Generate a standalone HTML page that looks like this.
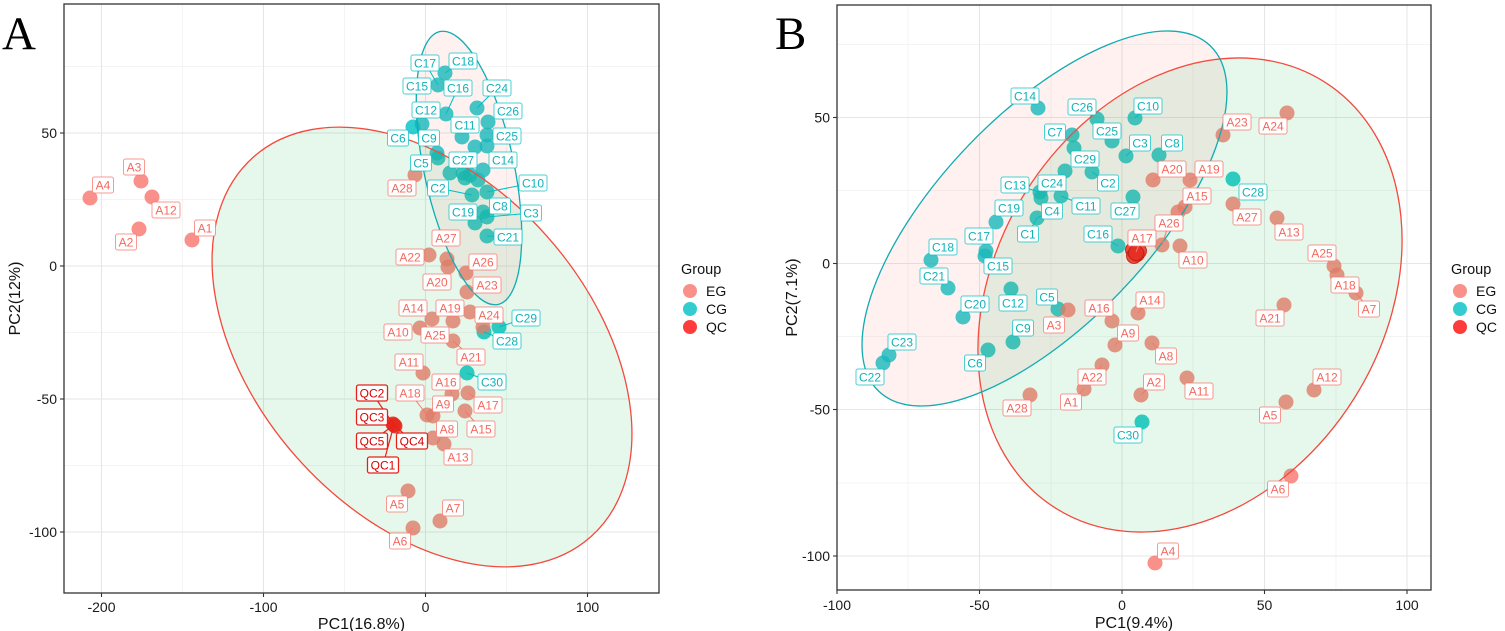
<!DOCTYPE html>
<html><head><meta charset="utf-8"><style>
html,body{margin:0;padding:0;background:#fff;overflow:hidden}
svg{display:block}
text{font-family:"Liberation Sans",Arial,sans-serif}
.gM{stroke:#e6e6e6;stroke-width:1.1;fill:none}
.gm{stroke:#f1f1f1;stroke-width:0.8;fill:none}
.pe{fill:#F8766D;fill-opacity:.8}
.pc{fill:#00BFC4;fill-opacity:.8}
.pq{fill:#ff1a1a;fill-opacity:.85}
.lab text{font-size:12px;text-anchor:middle}
.lc rect{fill:#fff;stroke:#00BFC4;stroke-opacity:.7;stroke-width:1}
.lc text{fill:#12b2b8}
.le rect{fill:#fff;stroke:#F8766D;stroke-opacity:.75;stroke-width:1}
.le text{fill:#f26a60}
.lq rect{fill:#fff;stroke:#e8201a;stroke-width:1.3}
.lq text{fill:#d80000}
.cc{stroke:#00BFC4;stroke-width:1}
.ce{stroke:#F8766D;stroke-width:1}
.cq{stroke:#e8201a;stroke-width:1.2}
.tk{font-size:14px;fill:#1a1a1a}
.ti{font-size:16px;fill:#111}
.frame{fill:none;stroke:#333;stroke-width:1.3}
.tm{stroke:#333;stroke-width:1.1}
</style></head><body>
<svg width="1505" height="631" viewBox="0 0 1505 631" xmlns="http://www.w3.org/2000/svg">
<defs>
<clipPath id="cA"><rect x="64" y="4" width="595" height="589"/></clipPath>
<clipPath id="cB"><rect x="837" y="5" width="594" height="585"/></clipPath>
</defs>
<rect width="1505" height="631" fill="#fff"/>

<!-- ================= PANEL A ================= -->
<g clip-path="url(#cA)">
<g class="gm">
<line x1="182.5" y1="4" x2="182.5" y2="593"/><line x1="344.5" y1="4" x2="344.5" y2="593"/><line x1="506.5" y1="4" x2="506.5" y2="593"/>
<line x1="64" y1="66.5" x2="659" y2="66.5"/><line x1="64" y1="199.5" x2="659" y2="199.5"/><line x1="64" y1="332.5" x2="659" y2="332.5"/><line x1="64" y1="465.5" x2="659" y2="465.5"/>
</g>
<g class="gM">
<line x1="101.5" y1="4" x2="101.5" y2="593"/><line x1="263.5" y1="4" x2="263.5" y2="593"/><line x1="425.5" y1="4" x2="425.5" y2="593"/><line x1="587.5" y1="4" x2="587.5" y2="593"/>
<line x1="64" y1="133" x2="659" y2="133"/><line x1="64" y1="266" x2="659" y2="266"/><line x1="64" y1="399" x2="659" y2="399"/><line x1="64" y1="532" x2="659" y2="532"/>
</g>

<g class="pc">
<circle cx="445" cy="73" r="7.5"/><circle cx="438" cy="85" r="7.5"/><circle cx="446" cy="114" r="7.5"/><circle cx="477" cy="108" r="7.5"/>
<circle cx="413" cy="127" r="7.5"/><circle cx="422" cy="124" r="7.5"/><circle cx="488" cy="122" r="7.5"/><circle cx="462" cy="137" r="7.5"/>
<circle cx="487" cy="135" r="7.5"/><circle cx="487" cy="146" r="7.5"/><circle cx="475" cy="147" r="7.5"/><circle cx="437" cy="153" r="7.5"/>
<circle cx="438" cy="158" r="7.5"/><circle cx="483" cy="170" r="7.5"/><circle cx="450" cy="173" r="7.5"/><circle cx="463" cy="173" r="7.5"/>
<circle cx="470" cy="175" r="7.5"/><circle cx="478" cy="180" r="7.5"/><circle cx="465" cy="178" r="7.5"/><circle cx="487" cy="192" r="7.5"/>
<circle cx="472" cy="195" r="7.5"/><circle cx="483" cy="212" r="7.5"/><circle cx="487" cy="217" r="7.5"/><circle cx="475" cy="223" r="7.5"/>
<circle cx="487" cy="236" r="7.5"/><circle cx="484" cy="332" r="7.5"/><circle cx="499" cy="327" r="7.5"/><circle cx="467" cy="373" r="7.5"/>
</g>
<g class="pe">
<circle cx="415" cy="175" r="7.5"/><circle cx="429" cy="255" r="7.5"/><circle cx="447" cy="259" r="7.5"/><circle cx="448" cy="267" r="7.5"/>
<circle cx="466" cy="273" r="7.5"/><circle cx="467" cy="292" r="7.5"/><circle cx="470" cy="312" r="7.5"/><circle cx="432" cy="319" r="7.5"/>
<circle cx="453" cy="321" r="7.5"/><circle cx="420" cy="328" r="7.5"/><circle cx="483" cy="327" r="7.5"/><circle cx="453" cy="341" r="7.5"/>
<circle cx="423" cy="373" r="7.5"/><circle cx="452" cy="394" r="7.5"/><circle cx="468" cy="393" r="7.5"/><circle cx="427" cy="415" r="7.5"/>
<circle cx="433" cy="416" r="7.5"/><circle cx="465" cy="411" r="7.5"/><circle cx="433" cy="438" r="7.5"/><circle cx="444" cy="444" r="7.5"/>
<circle cx="408" cy="491" r="7.5"/><circle cx="440" cy="521" r="7.5"/><circle cx="413" cy="528" r="7.5"/>
<circle cx="90" cy="198" r="7.5"/><circle cx="141" cy="181" r="7.5"/><circle cx="152" cy="197" r="7.5"/><circle cx="139" cy="229" r="7.5"/><circle cx="192" cy="240" r="7.5"/>
</g>
<g class="pq">
<circle cx="394" cy="425" r="7.5"/><circle cx="395" cy="426" r="7.5"/><circle cx="393" cy="424" r="7.5"/>
</g>

<ellipse cx="422" cy="347" rx="254" ry="167" transform="rotate(48.35 422 347)" fill="#00BA38" fill-opacity="0.1" stroke="#f4493d" stroke-width="1.3"/>
<ellipse cx="469" cy="168" rx="139.5" ry="45" transform="rotate(78 469 168)" fill="#F8766D" fill-opacity="0.1" stroke="#10acb2" stroke-width="1.3"/>

<g class="cc">
<line x1="425" y1="63" x2="438" y2="85"/><line x1="463" y1="61" x2="445" y2="73"/><line x1="458" y1="88" x2="446" y2="114"/>
<line x1="497" y1="88" x2="477" y2="108"/><line x1="533" y1="183" x2="487" y2="192"/><line x1="531" y1="213" x2="487" y2="217"/>
<line x1="438" y1="188" x2="472" y2="195"/><line x1="526" y1="318" x2="499" y2="327"/><line x1="507" y1="341" x2="484" y2="332"/>
<line x1="492" y1="382" x2="467" y2="373"/><line x1="508" y1="237" x2="487" y2="236"/>
</g>
<g class="ce">
<line x1="410" y1="393" x2="427" y2="415"/><line x1="488" y1="405" x2="468" y2="393"/><line x1="481" y1="429" x2="465" y2="411"/>
<line x1="471" y1="357" x2="453" y2="341"/><line x1="400" y1="541" x2="413" y2="528"/><line x1="443" y1="404" x2="433" y2="416"/>
<line x1="446" y1="382" x2="452" y2="394"/>
</g>
<g class="cq">
<line x1="372" y1="393" x2="394" y2="425"/><line x1="372" y1="417" x2="394" y2="425"/><line x1="372" y1="441" x2="394" y2="425"/>
<line x1="412" y1="441" x2="394" y2="425"/><line x1="383" y1="465" x2="394" y2="425"/>
</g>
</g>

<g class="lab lc">
<g transform="translate(425,63)"><rect x="-14" y="-8" width="28" height="16" rx="2"/><text y="4.3">C17</text></g>
<g transform="translate(463,61)"><rect x="-14" y="-8" width="28" height="16" rx="2"/><text y="4.3">C18</text></g>
<g transform="translate(417,86)"><rect x="-14" y="-8" width="28" height="16" rx="2"/><text y="4.3">C15</text></g>
<g transform="translate(458,88)"><rect x="-14" y="-8" width="28" height="16" rx="2"/><text y="4.3">C16</text></g>
<g transform="translate(497,88)"><rect x="-14" y="-8" width="28" height="16" rx="2"/><text y="4.3">C24</text></g>
<g transform="translate(426,110)"><rect x="-14" y="-8" width="28" height="16" rx="2"/><text y="4.3">C12</text></g>
<g transform="translate(508,111)"><rect x="-14" y="-8" width="28" height="16" rx="2"/><text y="4.3">C26</text></g>
<g transform="translate(465,125)"><rect x="-14" y="-8" width="28" height="16" rx="2"/><text y="4.3">C11</text></g>
<g transform="translate(398,138)"><rect x="-10.5" y="-8" width="21" height="16" rx="2"/><text y="4.3">C6</text></g>
<g transform="translate(429,138)"><rect x="-10.5" y="-8" width="21" height="16" rx="2"/><text y="4.3">C9</text></g>
<g transform="translate(507,136)"><rect x="-14" y="-8" width="28" height="16" rx="2"/><text y="4.3">C25</text></g>
<g transform="translate(421,163)"><rect x="-10.5" y="-8" width="21" height="16" rx="2"/><text y="4.3">C5</text></g>
<g transform="translate(463,160)"><rect x="-14" y="-8" width="28" height="16" rx="2"/><text y="4.3">C27</text></g>
<g transform="translate(503,160)"><rect x="-14" y="-8" width="28" height="16" rx="2"/><text y="4.3">C14</text></g>
<g transform="translate(438,188)"><rect x="-10.5" y="-8" width="21" height="16" rx="2"/><text y="4.3">C2</text></g>
<g transform="translate(533,183)"><rect x="-14" y="-8" width="28" height="16" rx="2"/><text y="4.3">C10</text></g>
<g transform="translate(500,206)"><rect x="-10.5" y="-8" width="21" height="16" rx="2"/><text y="4.3">C8</text></g>
<g transform="translate(463,212)"><rect x="-14" y="-8" width="28" height="16" rx="2"/><text y="4.3">C19</text></g>
<g transform="translate(531,213)"><rect x="-10.5" y="-8" width="21" height="16" rx="2"/><text y="4.3">C3</text></g>
<g transform="translate(508,237)"><rect x="-14" y="-8" width="28" height="16" rx="2"/><text y="4.3">C21</text></g>
<g transform="translate(526,318)"><rect x="-14" y="-8" width="28" height="16" rx="2"/><text y="4.3">C29</text></g>
<g transform="translate(507,341)"><rect x="-14" y="-8" width="28" height="16" rx="2"/><text y="4.3">C28</text></g>
<g transform="translate(492,382)"><rect x="-14" y="-8" width="28" height="16" rx="2"/><text y="4.3">C30</text></g>
</g>
<g class="lab le">
<g transform="translate(134,167)"><rect x="-10.5" y="-8" width="21" height="16" rx="2"/><text y="4.3">A3</text></g>
<g transform="translate(103,185)"><rect x="-10.5" y="-8" width="21" height="16" rx="2"/><text y="4.3">A4</text></g>
<g transform="translate(166,210)"><rect x="-14" y="-8" width="28" height="16" rx="2"/><text y="4.3">A12</text></g>
<g transform="translate(205,228)"><rect x="-10.5" y="-8" width="21" height="16" rx="2"/><text y="4.3">A1</text></g>
<g transform="translate(126,242)"><rect x="-10.5" y="-8" width="21" height="16" rx="2"/><text y="4.3">A2</text></g>
<g transform="translate(402,188)"><rect x="-14" y="-8" width="28" height="16" rx="2"/><text y="4.3">A28</text></g>
<g transform="translate(446,238)"><rect x="-14" y="-8" width="28" height="16" rx="2"/><text y="4.3">A27</text></g>
<g transform="translate(410,257)"><rect x="-14" y="-8" width="28" height="16" rx="2"/><text y="4.3">A22</text></g>
<g transform="translate(483,262)"><rect x="-14" y="-8" width="28" height="16" rx="2"/><text y="4.3">A26</text></g>
<g transform="translate(437,282)"><rect x="-14" y="-8" width="28" height="16" rx="2"/><text y="4.3">A20</text></g>
<g transform="translate(487,285)"><rect x="-14" y="-8" width="28" height="16" rx="2"/><text y="4.3">A23</text></g>
<g transform="translate(413,308)"><rect x="-14" y="-8" width="28" height="16" rx="2"/><text y="4.3">A14</text></g>
<g transform="translate(450,308)"><rect x="-14" y="-8" width="28" height="16" rx="2"/><text y="4.3">A19</text></g>
<g transform="translate(489,315)"><rect x="-14" y="-8" width="28" height="16" rx="2"/><text y="4.3">A24</text></g>
<g transform="translate(398,332)"><rect x="-14" y="-8" width="28" height="16" rx="2"/><text y="4.3">A10</text></g>
<g transform="translate(435,335)"><rect x="-14" y="-8" width="28" height="16" rx="2"/><text y="4.3">A25</text></g>
<g transform="translate(471,357)"><rect x="-14" y="-8" width="28" height="16" rx="2"/><text y="4.3">A21</text></g>
<g transform="translate(409,362)"><rect x="-14" y="-8" width="28" height="16" rx="2"/><text y="4.3">A11</text></g>
<g transform="translate(446,382)"><rect x="-14" y="-8" width="28" height="16" rx="2"/><text y="4.3">A16</text></g>
<g transform="translate(410,393)"><rect x="-14" y="-8" width="28" height="16" rx="2"/><text y="4.3">A18</text></g>
<g transform="translate(443,404)"><rect x="-10.5" y="-8" width="21" height="16" rx="2"/><text y="4.3">A9</text></g>
<g transform="translate(488,405)"><rect x="-14" y="-8" width="28" height="16" rx="2"/><text y="4.3">A17</text></g>
<g transform="translate(447,429)"><rect x="-10.5" y="-8" width="21" height="16" rx="2"/><text y="4.3">A8</text></g>
<g transform="translate(481,429)"><rect x="-14" y="-8" width="28" height="16" rx="2"/><text y="4.3">A15</text></g>
<g transform="translate(458,457)"><rect x="-14" y="-8" width="28" height="16" rx="2"/><text y="4.3">A13</text></g>
<g transform="translate(397,504)"><rect x="-10.5" y="-8" width="21" height="16" rx="2"/><text y="4.3">A5</text></g>
<g transform="translate(453,508)"><rect x="-10.5" y="-8" width="21" height="16" rx="2"/><text y="4.3">A7</text></g>
<g transform="translate(400,541)"><rect x="-10.5" y="-8" width="21" height="16" rx="2"/><text y="4.3">A6</text></g>
</g>
<g class="lab lq">
<g transform="translate(372,393)"><rect x="-15.5" y="-8" width="31" height="16" rx="2"/><text y="4.3">QC2</text></g>
<g transform="translate(372,417)"><rect x="-15.5" y="-8" width="31" height="16" rx="2"/><text y="4.3">QC3</text></g>
<g transform="translate(372,441)"><rect x="-15.5" y="-8" width="31" height="16" rx="2"/><text y="4.3">QC5</text></g>
<g transform="translate(412,441)"><rect x="-15.5" y="-8" width="31" height="16" rx="2"/><text y="4.3">QC4</text></g>
<g transform="translate(383,465)"><rect x="-15.5" y="-8" width="31" height="16" rx="2"/><text y="4.3">QC1</text></g>
</g>

<rect class="frame" x="64" y="4" width="595" height="589"/>
<g class="tm">
<line x1="60" y1="133" x2="64" y2="133"/><line x1="60" y1="266" x2="64" y2="266"/><line x1="60" y1="399" x2="64" y2="399"/><line x1="60" y1="532" x2="64" y2="532"/>
<line x1="101.5" y1="593" x2="101.5" y2="597"/><line x1="263.5" y1="593" x2="263.5" y2="597"/><line x1="425.5" y1="593" x2="425.5" y2="597"/><line x1="587.5" y1="593" x2="587.5" y2="597"/>
</g>
<g class="tk" text-anchor="end">
<text x="57" y="138">50</text><text x="57" y="271">0</text><text x="57" y="404">-50</text><text x="57" y="537">-100</text>
</g>
<g class="tk" text-anchor="middle">
<text x="101.5" y="612">-200</text><text x="263.5" y="612">-100</text><text x="425.5" y="612">0</text><text x="587.5" y="612">100</text>
</g>
<text class="ti" x="361.5" y="629" text-anchor="middle">PC1(16.8%)</text>
<text class="ti" transform="translate(20,298.5) rotate(-90)" text-anchor="middle">PC2(12%)</text>
<text x="2" y="49" style="font-family:'Liberation Serif',serif;font-size:47px" fill="#000">A</text>

<text x="681" y="274" style="font-size:14.5px" fill="#111">Group</text>
<circle cx="690" cy="291" r="7" class="pe"/><circle cx="690" cy="309" r="7" class="pc"/><circle cx="690" cy="327" r="7" class="pq"/>
<g style="font-size:14px" fill="#111"><text x="706" y="296">EG</text><text x="706" y="314">CG</text><text x="706" y="332">QC</text></g>

<!-- ================= PANEL B ================= -->
<g clip-path="url(#cB)">
<g class="gm">
<line x1="908" y1="5" x2="908" y2="590"/><line x1="1051" y1="5" x2="1051" y2="590"/><line x1="1193" y1="5" x2="1193" y2="590"/><line x1="1336" y1="5" x2="1336" y2="590"/>
<line x1="837" y1="44.5" x2="1431" y2="44.5"/><line x1="837" y1="190.5" x2="1431" y2="190.5"/><line x1="837" y1="336.5" x2="1431" y2="336.5"/><line x1="837" y1="483" x2="1431" y2="483"/>
</g>
<g class="gM">
<line x1="979.5" y1="5" x2="979.5" y2="590"/><line x1="1122" y1="5" x2="1122" y2="590"/><line x1="1264.5" y1="5" x2="1264.5" y2="590"/><line x1="1407" y1="5" x2="1407" y2="590"/>
<line x1="837" y1="117.5" x2="1431" y2="117.5"/><line x1="837" y1="263.5" x2="1431" y2="263.5"/><line x1="837" y1="409.5" x2="1431" y2="409.5"/><line x1="837" y1="556" x2="1431" y2="556"/>
</g>

<g class="pc">
<circle cx="1038" cy="108" r="7.5"/><circle cx="1097" cy="119" r="7.5"/><circle cx="1135" cy="118" r="7.5"/><circle cx="1072" cy="135" r="7.5"/>
<circle cx="1112" cy="141" r="7.5"/><circle cx="1074" cy="148" r="7.5"/><circle cx="1126" cy="156" r="7.5"/><circle cx="1159" cy="155" r="7.5"/>
<circle cx="1065" cy="171" r="7.5"/><circle cx="1092" cy="172" r="7.5"/><circle cx="1040" cy="192" r="7.5"/><circle cx="1041" cy="198" r="7.5"/>
<circle cx="1061" cy="196" r="7.5"/><circle cx="1133" cy="197" r="7.5"/><circle cx="996" cy="222" r="7.5"/><circle cx="1037" cy="218" r="7.5"/>
<circle cx="986" cy="251" r="7.5"/><circle cx="985" cy="256" r="7.5"/><circle cx="1118" cy="246" r="7.5"/><circle cx="931" cy="260" r="7.5"/>
<circle cx="948" cy="288" r="7.5"/><circle cx="1011" cy="289" r="7.5"/><circle cx="963" cy="317" r="7.5"/><circle cx="1058" cy="309" r="7.5"/>
<circle cx="1013" cy="342" r="7.5"/><circle cx="988" cy="350" r="7.5"/><circle cx="889" cy="355" r="7.5"/><circle cx="883" cy="363" r="7.5"/>
<circle cx="1233" cy="179" r="7.5"/><circle cx="1142" cy="422" r="7.5"/>
</g>
<g class="pe">
<circle cx="1223" cy="135" r="7.5"/><circle cx="1287" cy="113" r="7.5"/><circle cx="1153" cy="180" r="7.5"/><circle cx="1190" cy="180" r="7.5"/>
<circle cx="1185" cy="207" r="7.5"/><circle cx="1178" cy="212" r="7.5"/><circle cx="1233" cy="204" r="7.5"/><circle cx="1277" cy="218" r="7.5"/>
<circle cx="1162" cy="245" r="7.5"/><circle cx="1180" cy="246" r="7.5"/><circle cx="1334" cy="266" r="7.5"/><circle cx="1337" cy="275" r="7.5"/>
<circle cx="1356" cy="293" r="7.5"/><circle cx="1138" cy="313" r="7.5"/><circle cx="1112" cy="321" r="7.5"/><circle cx="1068" cy="310" r="7.5"/>
<circle cx="1115" cy="345" r="7.5"/><circle cx="1284" cy="305" r="7.5"/><circle cx="1152" cy="343" r="7.5"/><circle cx="1314" cy="390" r="7.5"/>
<circle cx="1102" cy="365" r="7.5"/><circle cx="1141" cy="395" r="7.5"/><circle cx="1187" cy="378" r="7.5"/><circle cx="1084" cy="389" r="7.5"/>
<circle cx="1030" cy="395" r="7.5"/><circle cx="1286" cy="402" r="7.5"/><circle cx="1291" cy="476" r="7.5"/><circle cx="1155" cy="563" r="7.5"/>
<circle cx="1136" cy="252" r="7.5"/>
</g>
<g class="pq" stroke="#c00" stroke-width="0.8">
<circle cx="1133" cy="250" r="7.5"/><circle cx="1137" cy="254" r="7.5"/><circle cx="1139" cy="251" r="7.5"/><circle cx="1134" cy="256" r="7.5"/><circle cx="1136" cy="253" r="7.5"/>
</g>

<ellipse cx="1190" cy="295" rx="252" ry="194" transform="rotate(-57.85 1190 295)" fill="#00BA38" fill-opacity="0.1" stroke="#f4493d" stroke-width="1.3"/>
<ellipse cx="1044.5" cy="218.5" rx="239.4" ry="105.5" transform="rotate(-46.15 1044.5 218.5)" fill="#F8766D" fill-opacity="0.1" stroke="#10acb2" stroke-width="1.3"/>

<g class="cc">
<line x1="1015" y1="185" x2="1040" y2="192"/><line x1="1086" y1="206" x2="1061" y2="196"/><line x1="1108" y1="183" x2="1092" y2="172"/>
<line x1="1098" y1="234" x2="1118" y2="246"/><line x1="1052" y1="211" x2="1037" y2="218"/><line x1="1028" y1="234" x2="1037" y2="218"/>
<line x1="1140" y1="143" x2="1126" y2="156"/><line x1="1148" y1="106" x2="1135" y2="118"/>
</g>
<g class="ce">
<line x1="1128" y1="333" x2="1115" y2="345"/><line x1="1166" y1="356" x2="1152" y2="343"/><line x1="1369" y1="309" x2="1356" y2="293"/>
<line x1="1197" y1="196" x2="1178" y2="212"/><line x1="1172" y1="169" x2="1153" y2="180"/><line x1="1209" y1="169" x2="1190" y2="180"/>
<line x1="1169" y1="223" x2="1162" y2="245"/><line x1="1142" y1="238" x2="1136" y2="252"/><line x1="1154" y1="382" x2="1141" y2="395"/>
<line x1="1150" y1="300" x2="1138" y2="313"/><line x1="1071" y1="402" x2="1084" y2="389"/><line x1="1092" y1="377" x2="1102" y2="365"/>
</g>
</g>

<g class="lab lc">
<g transform="translate(1025,96)"><rect x="-14" y="-8" width="28" height="16" rx="2"/><text y="4.3">C14</text></g>
<g transform="translate(1082,107)"><rect x="-14" y="-8" width="28" height="16" rx="2"/><text y="4.3">C26</text></g>
<g transform="translate(1148,106)"><rect x="-14" y="-8" width="28" height="16" rx="2"/><text y="4.3">C10</text></g>
<g transform="translate(1055,132)"><rect x="-10.5" y="-8" width="21" height="16" rx="2"/><text y="4.3">C7</text></g>
<g transform="translate(1107,131)"><rect x="-14" y="-8" width="28" height="16" rx="2"/><text y="4.3">C25</text></g>
<g transform="translate(1140,143)"><rect x="-10.5" y="-8" width="21" height="16" rx="2"/><text y="4.3">C3</text></g>
<g transform="translate(1172,143)"><rect x="-10.5" y="-8" width="21" height="16" rx="2"/><text y="4.3">C8</text></g>
<g transform="translate(1085,159)"><rect x="-14" y="-8" width="28" height="16" rx="2"/><text y="4.3">C29</text></g>
<g transform="translate(1108,183)"><rect x="-10.5" y="-8" width="21" height="16" rx="2"/><text y="4.3">C2</text></g>
<g transform="translate(1015,185)"><rect x="-14" y="-8" width="28" height="16" rx="2"/><text y="4.3">C13</text></g>
<g transform="translate(1052,183)"><rect x="-14" y="-8" width="28" height="16" rx="2"/><text y="4.3">C24</text></g>
<g transform="translate(1086,206)"><rect x="-14" y="-8" width="28" height="16" rx="2"/><text y="4.3">C11</text></g>
<g transform="translate(1125,211)"><rect x="-14" y="-8" width="28" height="16" rx="2"/><text y="4.3">C27</text></g>
<g transform="translate(1009,208)"><rect x="-14" y="-8" width="28" height="16" rx="2"/><text y="4.3">C19</text></g>
<g transform="translate(1052,211)"><rect x="-10.5" y="-8" width="21" height="16" rx="2"/><text y="4.3">C4</text></g>
<g transform="translate(1028,234)"><rect x="-10.5" y="-8" width="21" height="16" rx="2"/><text y="4.3">C1</text></g>
<g transform="translate(979,236)"><rect x="-14" y="-8" width="28" height="16" rx="2"/><text y="4.3">C17</text></g>
<g transform="translate(1098,234)"><rect x="-14" y="-8" width="28" height="16" rx="2"/><text y="4.3">C16</text></g>
<g transform="translate(943,247)"><rect x="-14" y="-8" width="28" height="16" rx="2"/><text y="4.3">C18</text></g>
<g transform="translate(998,266)"><rect x="-14" y="-8" width="28" height="16" rx="2"/><text y="4.3">C15</text></g>
<g transform="translate(934,276)"><rect x="-14" y="-8" width="28" height="16" rx="2"/><text y="4.3">C21</text></g>
<g transform="translate(1013,303)"><rect x="-14" y="-8" width="28" height="16" rx="2"/><text y="4.3">C12</text></g>
<g transform="translate(975,304)"><rect x="-14" y="-8" width="28" height="16" rx="2"/><text y="4.3">C20</text></g>
<g transform="translate(1047,297)"><rect x="-10.5" y="-8" width="21" height="16" rx="2"/><text y="4.3">C5</text></g>
<g transform="translate(1023,328)"><rect x="-10.5" y="-8" width="21" height="16" rx="2"/><text y="4.3">C9</text></g>
<g transform="translate(975,363)"><rect x="-10.5" y="-8" width="21" height="16" rx="2"/><text y="4.3">C6</text></g>
<g transform="translate(902,342)"><rect x="-14" y="-8" width="28" height="16" rx="2"/><text y="4.3">C23</text></g>
<g transform="translate(870,377)"><rect x="-14" y="-8" width="28" height="16" rx="2"/><text y="4.3">C22</text></g>
<g transform="translate(1253,192)"><rect x="-14" y="-8" width="28" height="16" rx="2"/><text y="4.3">C28</text></g>
<g transform="translate(1128,435)"><rect x="-14" y="-8" width="28" height="16" rx="2"/><text y="4.3">C30</text></g>
</g>
<g class="lab le">
<g transform="translate(1237,122)"><rect x="-14" y="-8" width="28" height="16" rx="2"/><text y="4.3">A23</text></g>
<g transform="translate(1273,126)"><rect x="-14" y="-8" width="28" height="16" rx="2"/><text y="4.3">A24</text></g>
<g transform="translate(1172,169)"><rect x="-14" y="-8" width="28" height="16" rx="2"/><text y="4.3">A20</text></g>
<g transform="translate(1209,169)"><rect x="-14" y="-8" width="28" height="16" rx="2"/><text y="4.3">A19</text></g>
<g transform="translate(1197,196)"><rect x="-14" y="-8" width="28" height="16" rx="2"/><text y="4.3">A15</text></g>
<g transform="translate(1247,217)"><rect x="-14" y="-8" width="28" height="16" rx="2"/><text y="4.3">A27</text></g>
<g transform="translate(1289,232)"><rect x="-14" y="-8" width="28" height="16" rx="2"/><text y="4.3">A13</text></g>
<g transform="translate(1169,223)"><rect x="-14" y="-8" width="28" height="16" rx="2"/><text y="4.3">A26</text></g>
<g transform="translate(1142,238)"><rect x="-14" y="-8" width="28" height="16" rx="2"/><text y="4.3">A17</text></g>
<g transform="translate(1193,260)"><rect x="-14" y="-8" width="28" height="16" rx="2"/><text y="4.3">A10</text></g>
<g transform="translate(1322,253)"><rect x="-14" y="-8" width="28" height="16" rx="2"/><text y="4.3">A25</text></g>
<g transform="translate(1345,285)"><rect x="-14" y="-8" width="28" height="16" rx="2"/><text y="4.3">A18</text></g>
<g transform="translate(1369,309)"><rect x="-10.5" y="-8" width="21" height="16" rx="2"/><text y="4.3">A7</text></g>
<g transform="translate(1150,300)"><rect x="-14" y="-8" width="28" height="16" rx="2"/><text y="4.3">A14</text></g>
<g transform="translate(1099,308)"><rect x="-14" y="-8" width="28" height="16" rx="2"/><text y="4.3">A16</text></g>
<g transform="translate(1054,325)"><rect x="-10.5" y="-8" width="21" height="16" rx="2"/><text y="4.3">A3</text></g>
<g transform="translate(1128,333)"><rect x="-10.5" y="-8" width="21" height="16" rx="2"/><text y="4.3">A9</text></g>
<g transform="translate(1270,318)"><rect x="-14" y="-8" width="28" height="16" rx="2"/><text y="4.3">A21</text></g>
<g transform="translate(1166,356)"><rect x="-10.5" y="-8" width="21" height="16" rx="2"/><text y="4.3">A8</text></g>
<g transform="translate(1327,377)"><rect x="-14" y="-8" width="28" height="16" rx="2"/><text y="4.3">A12</text></g>
<g transform="translate(1092,377)"><rect x="-14" y="-8" width="28" height="16" rx="2"/><text y="4.3">A22</text></g>
<g transform="translate(1154,382)"><rect x="-10.5" y="-8" width="21" height="16" rx="2"/><text y="4.3">A2</text></g>
<g transform="translate(1199,391)"><rect x="-14" y="-8" width="28" height="16" rx="2"/><text y="4.3">A11</text></g>
<g transform="translate(1071,402)"><rect x="-10.5" y="-8" width="21" height="16" rx="2"/><text y="4.3">A1</text></g>
<g transform="translate(1017,408)"><rect x="-14" y="-8" width="28" height="16" rx="2"/><text y="4.3">A28</text></g>
<g transform="translate(1270,415)"><rect x="-10.5" y="-8" width="21" height="16" rx="2"/><text y="4.3">A5</text></g>
<g transform="translate(1278,489)"><rect x="-10.5" y="-8" width="21" height="16" rx="2"/><text y="4.3">A6</text></g>
<g transform="translate(1168,551)"><rect x="-10.5" y="-8" width="21" height="16" rx="2"/><text y="4.3">A4</text></g>
</g>

<rect class="frame" x="837" y="5" width="594" height="585"/>
<g class="tm">
<line x1="833" y1="117.5" x2="837" y2="117.5"/><line x1="833" y1="263.5" x2="837" y2="263.5"/><line x1="833" y1="409.5" x2="837" y2="409.5"/><line x1="833" y1="556" x2="837" y2="556"/>
<line x1="837" y1="590" x2="837" y2="594"/><line x1="979.5" y1="590" x2="979.5" y2="594"/><line x1="1122" y1="590" x2="1122" y2="594"/><line x1="1264.5" y1="590" x2="1264.5" y2="594"/><line x1="1407" y1="590" x2="1407" y2="594"/>
</g>
<g class="tk" text-anchor="end">
<text x="830" y="122.5">50</text><text x="830" y="268.5">0</text><text x="830" y="414.5">-50</text><text x="830" y="561">-100</text>
</g>
<g class="tk" text-anchor="middle">
<text x="837" y="610">-100</text><text x="979.5" y="610">-50</text><text x="1122" y="610">0</text><text x="1264.5" y="610">50</text><text x="1407" y="610">100</text>
</g>
<text class="ti" x="1134" y="628" text-anchor="middle">PC1(9.4%)</text>
<text class="ti" transform="translate(797,297.5) rotate(-90)" text-anchor="middle">PC2(7.1%)</text>
<text x="775" y="49" style="font-family:'Liberation Serif',serif;font-size:47px" fill="#000">B</text>

<text x="1451" y="274" style="font-size:14.5px" fill="#111">Group</text>
<circle cx="1460" cy="291" r="7" class="pe"/><circle cx="1460" cy="309" r="7" class="pc"/><circle cx="1460" cy="327" r="7" class="pq"/>
<g style="font-size:14px" fill="#111"><text x="1476" y="296">EG</text><text x="1476" y="314">CG</text><text x="1476" y="332">QC</text></g>
</svg>
</body></html>
